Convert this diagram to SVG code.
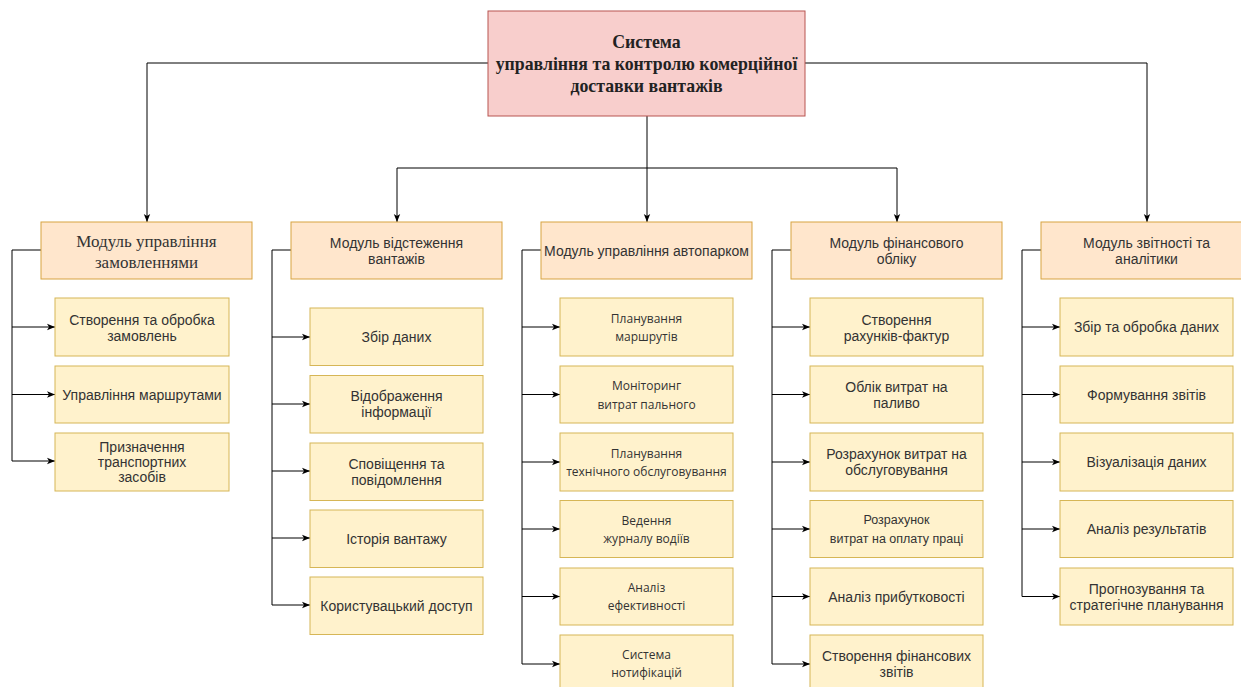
<svg xmlns="http://www.w3.org/2000/svg" width="1241" height="687" viewBox="0 0 1241 687">
<defs>
<marker id="arr" viewBox="0 0 10 10" refX="10" refY="5" markerWidth="8" markerHeight="8" markerUnits="userSpaceOnUse" orient="auto">
<path d="M0,1 L10,5 L0,9 L2.5,5 Z" fill="#000"/>
</marker>
<style>
.root{fill:#f8cecc;stroke:#b85450;stroke-width:1}
.mod{fill:#ffe6cc;stroke:#d7a340;stroke-width:1}
.leaf{fill:#fff2cc;stroke:#d6b656;stroke-width:1}
.c{fill:none;stroke:#000;stroke-width:1}
.a{marker-end:url(#arr)}
text{text-anchor:middle;dominant-baseline:central;fill:#333}
.rt{font-family:"Liberation Serif",serif;font-weight:bold;font-size:17.8px;fill:#222}
.st{font-family:"Liberation Serif",serif;font-size:17px}
.t{font-family:"Liberation Sans",Arial,sans-serif;font-size:14px}
.s{font-family:"Open Sans",sans-serif;font-size:12px}
.s2{font-family:"Liberation Sans",Arial,sans-serif;font-size:12.5px}
</style>
</defs>
<rect width="1241" height="687" fill="#fff"/>
<g id="connectors">
<path class="c a" d="M488,63 H147 V222"/>
<path class="c a" d="M805,63 H1147 V222"/>
<path class="c" d="M647,116 V168"/>
<path class="c a" d="M647,168 H397 V222"/>
<path class="c a" d="M647,168 V222"/>
<path class="c a" d="M647,168 H897 V222"/>
<path class="c" d="M41,250 H12 V461"/>
<path class="c a" d="M12,327 H55"/>
<path class="c a" d="M12,394.5 H55"/>
<path class="c a" d="M12,461 H55"/>
<path class="c" d="M291,250 H272 V605"/>
<path class="c a" d="M272,337 H310"/>
<path class="c a" d="M272,404 H310"/>
<path class="c a" d="M272,471 H310"/>
<path class="c a" d="M272,538 H310"/>
<path class="c a" d="M272,605 H310"/>
<path class="c" d="M541,250 H522 V664"/>
<path class="c a" d="M522,327 H560"/>
<path class="c a" d="M522,394.5 H560"/>
<path class="c a" d="M522,462 H560"/>
<path class="c a" d="M522,529 H560"/>
<path class="c a" d="M522,596.5 H560"/>
<path class="c a" d="M522,664 H560"/>
<path class="c" d="M791,250 H772 V664"/>
<path class="c a" d="M772,327 H810"/>
<path class="c a" d="M772,394.5 H810"/>
<path class="c a" d="M772,462 H810"/>
<path class="c a" d="M772,529 H810"/>
<path class="c a" d="M772,596.5 H810"/>
<path class="c a" d="M772,664 H810"/>
<path class="c" d="M1041,250 H1022 V596.5"/>
<path class="c a" d="M1022,327 H1060"/>
<path class="c a" d="M1022,394.5 H1060"/>
<path class="c a" d="M1022,462 H1060"/>
<path class="c a" d="M1022,529 H1060"/>
<path class="c a" d="M1022,596.5 H1060"/>
</g>
<g id="root">
<rect class="root" x="488" y="11" width="317" height="105"/>
<text class="rt" x="646.5" y="42">Система</text>
<text class="rt" x="646.5" y="64">управління та контролю комерційної</text>
<text class="rt" x="646.5" y="85.5">доставки вантажів</text>
</g>
<g id="m1">
<rect class="mod" x="41" y="222" width="211" height="57"/>
<text class="st" x="146.5" y="241.5">Модуль управління</text>
<text class="st" x="146.5" y="262">замовленнями</text>
</g>
<g id="m1l1"><rect class="leaf" x="55" y="298" width="174" height="58"/><text class="t" x="142" y="319.5">Створення та обробка</text><text class="t" x="142" y="335.5">замовлень</text></g>
<g id="m1l2"><rect class="leaf" x="55" y="366" width="174" height="57"/><text class="t" x="142" y="394.5">Управління маршрутами</text></g>
<g id="m1l3"><rect class="leaf" x="55" y="433" width="174" height="58"/><text class="t" x="142" y="446.5">Призначення</text><text class="t" x="142" y="462">транспортних</text><text class="t" x="142" y="477">засобів</text></g>
<g id="m2">
<rect class="mod" x="291" y="222" width="211" height="57"/>
<text class="t" x="396.5" y="242.5">Модуль відстеження</text>
<text class="t" x="396.5" y="258.5">вантажів</text>
</g>
<g id="m2l1"><rect class="leaf" x="310" y="308" width="173" height="57.5"/><text class="t" x="396.5" y="337">Збір даних</text></g>
<g id="m2l2"><rect class="leaf" x="310" y="375.5" width="173" height="57.5"/><text class="t" x="396.5" y="396">Відображення</text><text class="t" x="396.5" y="412">інформації</text></g>
<g id="m2l3"><rect class="leaf" x="310" y="443" width="173" height="57.5"/><text class="t" x="396.5" y="463.5">Сповіщення та</text><text class="t" x="396.5" y="479.5">повідомлення</text></g>
<g id="m2l4"><rect class="leaf" x="310" y="510" width="173" height="57.5"/><text class="t" x="396.5" y="539">Історія вантажу</text></g>
<g id="m2l5"><rect class="leaf" x="310" y="577" width="173" height="57.5"/><text class="t" x="396.5" y="606">Користувацький доступ</text></g>
<g id="m3">
<rect class="mod" x="541" y="222" width="211" height="57"/>
<text class="t" x="646.5" y="250.5">Модуль управління автопарком</text>
</g>
<g id="m3l1"><rect class="leaf" x="560" y="298" width="173" height="58"/><text class="s" x="646.5" y="318">Планування</text><text class="s" x="646.5" y="336.5">маршрутів</text></g>
<g id="m3l2"><rect class="leaf" x="560" y="366" width="173" height="57"/><text class="s" x="646.5" y="385.5">Моніторинг</text><text class="s" x="646.5" y="404">витрат пального</text></g>
<g id="m3l3"><rect class="leaf" x="560" y="433" width="173" height="58"/><text class="s" x="646.5" y="453">Планування</text><text class="s" x="646.5" y="471">технічного обслуговування</text></g>
<g id="m3l4"><rect class="leaf" x="560" y="500.5" width="173" height="57"/><text class="s" x="646.5" y="520">Ведення</text><text class="s" x="646.5" y="538.5">журналу водіїв</text></g>
<g id="m3l5"><rect class="leaf" x="560" y="568" width="173" height="57"/><text class="s" x="646.5" y="587.5">Аналіз</text><text class="s" x="646.5" y="605.5">ефективності</text></g>
<g id="m3l6"><rect class="leaf" x="560" y="635" width="173" height="57"/><text class="s" x="646.5" y="654.5">Система</text><text class="s" x="646.5" y="672.5">нотифікацій</text></g>
<g id="m4">
<rect class="mod" x="791" y="222" width="211" height="57"/>
<text class="t" x="896.5" y="242.5">Модуль фінансового</text>
<text class="t" x="896.5" y="258.5">обліку</text>
</g>
<g id="m4l1"><rect class="leaf" x="810" y="298" width="173" height="58"/><text class="t" x="896.5" y="319.5">Створення</text><text class="t" x="896.5" y="335.5">рахунків-фактур</text></g>
<g id="m4l2"><rect class="leaf" x="810" y="366" width="173" height="57"/><text class="t" x="896.5" y="386.5">Облік витрат на</text><text class="t" x="896.5" y="402.5">паливо</text></g>
<g id="m4l3"><rect class="leaf" x="810" y="433" width="173" height="58"/><text class="t" x="896.5" y="454">Розрахунок витрат на</text><text class="t" x="896.5" y="470">обслуговування</text></g>
<g id="m4l4"><rect class="leaf" x="810" y="500.5" width="173" height="57"/><text class="s2" x="896.5" y="520">Розрахунок</text><text class="s2" x="896.5" y="539">витрат на оплату праці</text></g>
<g id="m4l5"><rect class="leaf" x="810" y="568" width="173" height="57"/><text class="t" x="896.5" y="596.5">Аналіз прибутковості</text></g>
<g id="m4l6"><rect class="leaf" x="810" y="635" width="173" height="57"/><text class="t" x="896.5" y="655.5">Створення фінансових</text><text class="t" x="896.5" y="671.5">звітів</text></g>
<g id="m5">
<rect class="mod" x="1041" y="222" width="211" height="57"/>
<text class="t" x="1146.5" y="242.5">Модуль звітності та</text>
<text class="t" x="1146.5" y="258.5">аналітики</text>
</g>
<g id="m5l1"><rect class="leaf" x="1060" y="298" width="173" height="58"/><text class="t" x="1146.5" y="327">Збір та обробка даних</text></g>
<g id="m5l2"><rect class="leaf" x="1060" y="366" width="173" height="57"/><text class="t" x="1146.5" y="394.5">Формування звітів</text></g>
<g id="m5l3"><rect class="leaf" x="1060" y="433" width="173" height="58"/><text class="t" x="1146.5" y="462">Візуалізація даних</text></g>
<g id="m5l4"><rect class="leaf" x="1060" y="500.5" width="173" height="57"/><text class="t" x="1146.5" y="529">Аналіз результатів</text></g>
<g id="m5l5"><rect class="leaf" x="1060" y="568" width="173" height="57"/><text class="t" x="1146.5" y="588.5">Прогнозування та</text><text class="t" x="1146.5" y="604.5">стратегічне планування</text></g>
</svg>
